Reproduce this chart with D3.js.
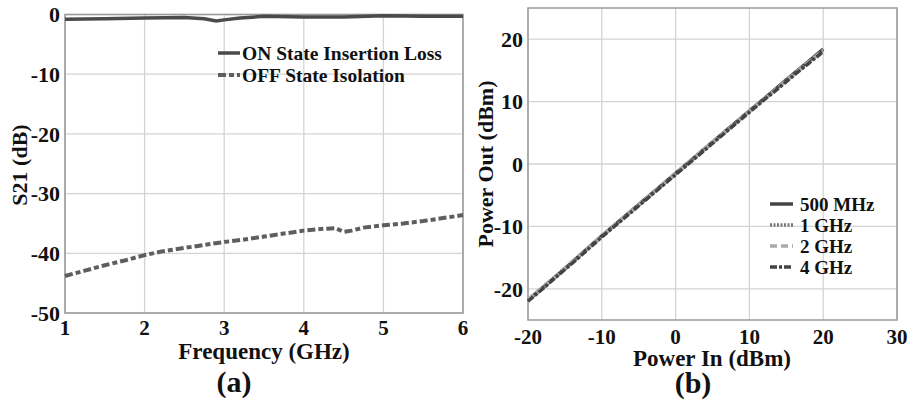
<!DOCTYPE html>
<html><head><meta charset="utf-8">
<script src="https://cdn.jsdelivr.net/npm/d3@7/dist/d3.min.js"></script>
<style>
body{margin:0;background:#fff;}
svg text{font-family:"Liberation Serif","Times New Roman",Times,serif;font-weight:bold;fill:#111;}
</style></head>
<body><svg id="c" width="915" height="403"></svg>
<script>
// Panel (a) data
const onFreq = [1,1.5,2,2.5,2.75,2.9,3.0,3.2,3.5,4,4.5,5,5.5,6];
const onLoss = [-0.8,-0.7,-0.6,-0.5,-0.7,-1.1,-0.9,-0.6,-0.3,-0.4,-0.4,-0.2,-0.3,-0.3];
const offFreq = [1,1.25,1.5,1.75,2,2.25,2.5,2.75,3,3.25,3.5,3.75,4,4.25,4.4,4.5,4.6,4.75,5,5.25,5.5,5.75,6];
const offIso = [-43.8,-42.9,-42.0,-41.2,-40.3,-39.6,-39.1,-38.6,-38.1,-37.7,-37.2,-36.7,-36.2,-35.9,-35.8,-36.4,-36.2,-35.7,-35.3,-35.0,-34.6,-34.1,-33.6];
const aXTicks = [1,2,3,4,5,6];
const aYTicks = [0,-10,-20,-30,-40,-50];
const aSeries = ["ON State Insertion Loss","OFF State Isolation"];

// Panel (b) data
const pin = [-20,-18,-16,-14,-12,-10,-8,-6,-4,-2,0,2,4,6,8,10,12,14,16,18,20];
const pout500M = [-21.8,-19.8,-17.8,-15.7,-13.6,-11.5,-9.5,-7.5,-5.5,-3.5,-1.5,0.5,2.5,4.5,6.5,8.5,10.5,12.5,14.5,16.4,18.4];
const pout1G = [-21.9,-19.9,-17.8,-15.8,-13.7,-11.6,-9.6,-7.6,-5.6,-3.6,-1.6,0.4,2.4,4.4,6.4,8.4,10.4,12.4,14.3,16.3,18.3];
const pout2G = [-21.7,-19.7,-17.7,-15.6,-13.6,-11.5,-9.5,-7.5,-5.5,-3.5,-1.5,0.5,2.5,4.5,6.5,8.5,10.4,12.4,14.4,16.3,18.2];
const pout4G = [-22.0,-20.0,-17.9,-15.9,-13.8,-11.7,-9.7,-7.7,-5.7,-3.7,-1.7,0.3,2.3,4.3,6.3,8.3,10.3,12.2,14.2,16.1,18.0];
const bXTicks = [-20,-10,0,10,20,30];
const bYTicks = [20,10,0,-10,-20];
const bSeries = ["500 MHz","1 GHz","2 GHz","4 GHz"];

const svg = d3.select("#c");

function frame(g, x, y, xt, yt, gridColor, frameColor){
  const [x0,x1] = x.range(), [y1,y0] = y.range();
  g.append("g").selectAll("line").data(xt).join("line")
    .attr("x1",d=>x(d)).attr("x2",d=>x(d)).attr("y1",y0).attr("y2",y1)
    .attr("stroke",gridColor).attr("stroke-width",1.3);
  g.append("g").selectAll("line").data(yt).join("line")
    .attr("x1",x0).attr("x2",x1).attr("y1",d=>y(d)).attr("y2",d=>y(d))
    .attr("stroke",gridColor).attr("stroke-width",1.3);
  g.append("rect").attr("x",x0).attr("y",y0).attr("width",x1-x0).attr("height",y1-y0)
    .attr("fill","none").attr("stroke",frameColor).attr("stroke-width",1.5);
}

// ---------- Panel (a)
const xa = d3.scaleLinear().domain([1,6]).range([65,463]);
const ya = d3.scaleLinear().domain([-50,0]).range([313,14.5]);
const ga = svg.append("g");
frame(ga, xa, ya, aXTicks, aYTicks, "#d4d4d4", "#9a9a9a");
const la = d3.line().x(d=>xa(d[0])).y(d=>ya(d[1]));
ga.append("path").datum(offFreq.map((f,i)=>[f,offIso[i]])).attr("d",la)
  .attr("fill","none").attr("stroke","#5e5e5e").attr("stroke-width",4).attr("stroke-dasharray","8,3,5,3");
ga.append("path").datum(onFreq.map((f,i)=>[f,onLoss[i]])).attr("d",la)
  .attr("fill","none").attr("stroke","#4a4a4a").attr("stroke-width",3.5);
ga.append("g").selectAll("text").data(aYTicks).join("text")
  .attr("x",60).attr("y",d=>ya(d)).attr("dy","0.35em").attr("text-anchor","end")
  .attr("font-size",22).text(d=>d);
ga.append("g").selectAll("text").data(aXTicks).join("text")
  .attr("x",d=>xa(d)).attr("y",335).attr("text-anchor","middle")
  .attr("font-size",21).text(d=>d);
ga.append("text").attr("x",264).attr("y",359).attr("text-anchor","middle").attr("font-size",23).text("Frequency (GHz)");
ga.append("text").attr("transform","translate(27,165) rotate(-90)").attr("text-anchor","middle").attr("font-size",22).text("S21 (dB)");
ga.append("text").attr("x",234).attr("y",392).attr("text-anchor","middle").attr("font-size",30).text("(a)");
// legend (a)
const legA = ga.append("g");
const aStyles = [{c:"#4a4a4a",d:null,w:3.5},{c:"#5e5e5e",d:"8,3,5,3",w:4}];
aSeries.forEach((s,i)=>{
  const yy = 53 + i*22;
  legA.append("line").attr("x1",218).attr("x2",240).attr("y1",yy).attr("y2",yy)
    .attr("stroke",aStyles[i].c).attr("stroke-width",aStyles[i].w).attr("stroke-dasharray",aStyles[i].d);
  legA.append("text").attr("x",242).attr("y",yy).attr("dy","0.35em").attr("font-size",19.5).text(s);
});

// ---------- Panel (b)
const xb = d3.scaleLinear().domain([-20,30]).range([528,897]);
const yb = d3.scaleLinear().domain([-25,25]).range([320,8]);
const gb = svg.append("g");
frame(gb, xb, yb, bXTicks, bYTicks, "#d4d4d4", "#9a9a9a");
const lb = d3.line().x(d=>xb(d[0])).y(d=>yb(d[1]));
const bData = [pout500M,pout1G,pout2G,pout4G];
const bStyles = [{c:"#444",d:null,w:3.5},{c:"#777",d:"2,1.5",w:3.5},{c:"#aaa",d:"7,4",w:3.5},{c:"#444",d:"7,2,3,2",w:3.5}];
bData.forEach((arr,k)=>{
  gb.append("path").datum(pin.map((p,i)=>[p,arr[i]])).attr("d",lb)
    .attr("fill","none").attr("stroke",bStyles[k].c).attr("stroke-width",bStyles[k].w)
    .attr("stroke-dasharray",bStyles[k].d);
});
gb.append("g").selectAll("text").data(bYTicks).join("text")
  .attr("x",523).attr("y",d=>yb(d)).attr("dy","0.35em").attr("text-anchor","end")
  .attr("font-size",22).text(d=>d);
gb.append("g").selectAll("text").data(bXTicks).join("text")
  .attr("x",d=>xb(d)).attr("y",344).attr("text-anchor","middle")
  .attr("font-size",21).text(d=>d);
gb.append("text").attr("x",712).attr("y",366).attr("text-anchor","middle").attr("font-size",23).text("Power In (dBm)");
gb.append("text").attr("transform","translate(493,164) rotate(-90)").attr("text-anchor","middle").attr("font-size",22).text("Power Out (dBm)");
gb.append("text").attr("x",693).attr("y",393).attr("text-anchor","middle").attr("font-size",30).text("(b)");
const legB = gb.append("g");
bSeries.forEach((s,i)=>{
  const yy = 204 + i*21;
  legB.append("line").attr("x1",770).attr("x2",793).attr("y1",yy).attr("y2",yy)
    .attr("stroke",bStyles[i].c).attr("stroke-width",bStyles[i].w).attr("stroke-dasharray",bStyles[i].d);
  legB.append("text").attr("x",800).attr("y",yy).attr("dy","0.35em").attr("font-size",19).text(s);
});
</script></body></html>
